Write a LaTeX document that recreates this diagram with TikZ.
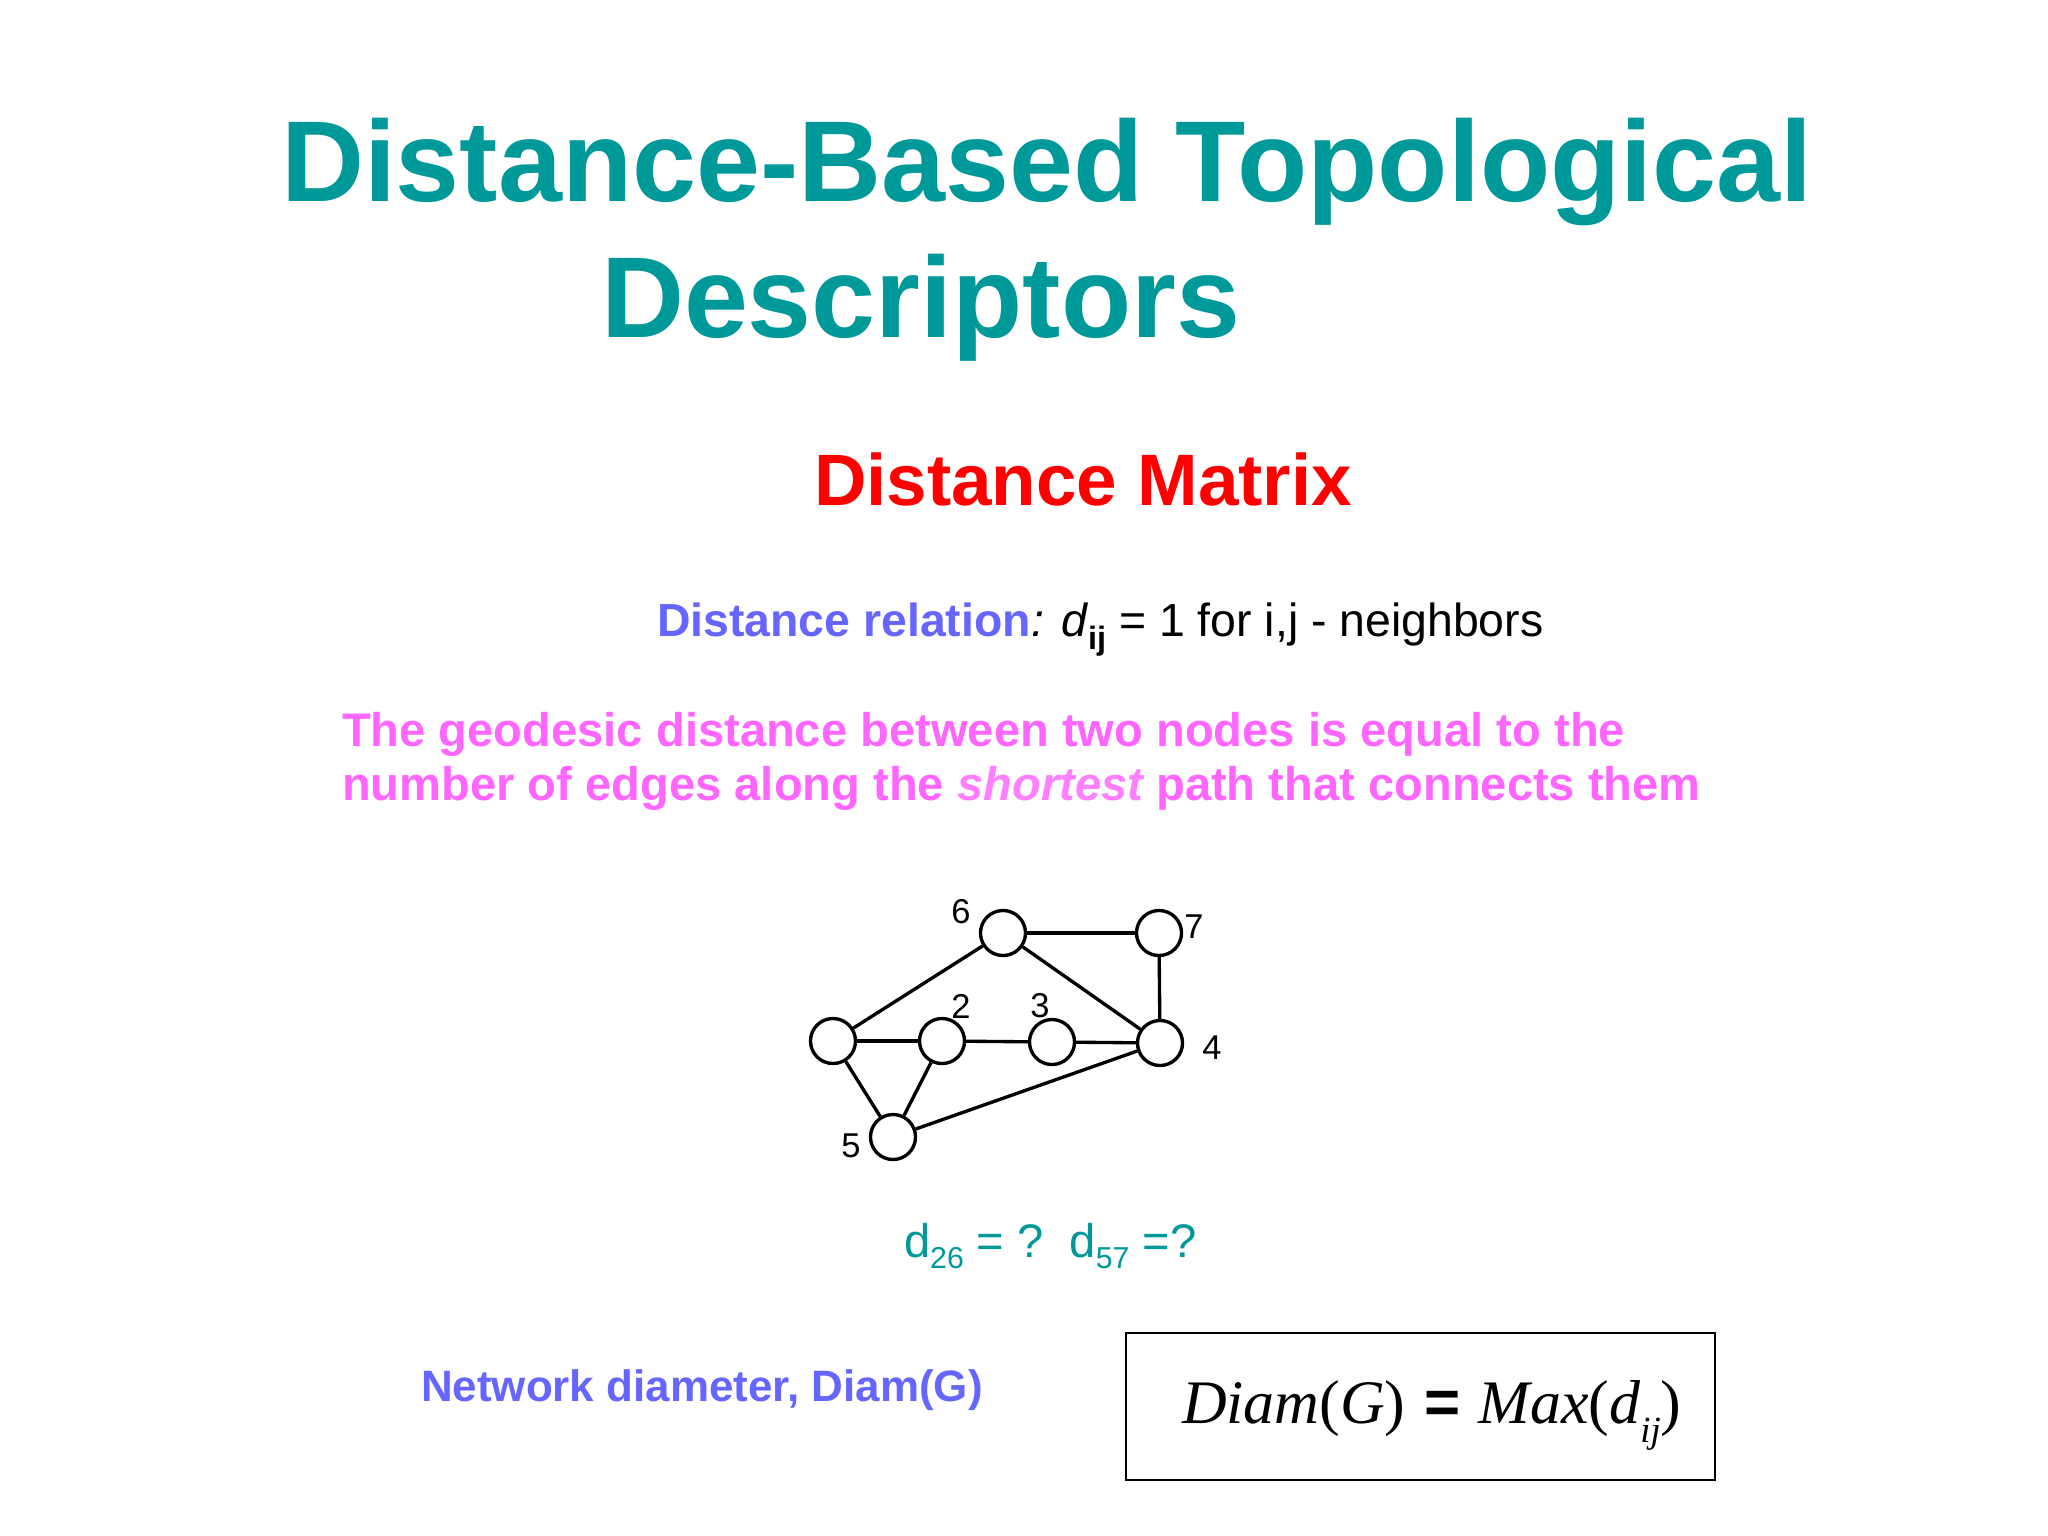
\documentclass[tikz,border=0pt]{standalone}
\usepackage{fontspec}
\setmainfont{Liberation Sans}
\newfontfamily\timesf{Liberation Serif}
\definecolor{titleteal}{RGB}{0,153,153}
\definecolor{dred}{RGB}{255,0,0}
\definecolor{dblue}{RGB}{102,102,255}
\definecolor{dpink}{RGB}{255,102,255}
\definecolor{dpinklight}{RGB}{255,128,255}
\tikzset{
  txt/.style={inner sep=0pt, outer sep=0pt, anchor=base west},
  vtx/.style={circle, draw=black, line width=0.95pt, minimum size=0.45cm, inner sep=0pt, fill=white},
  edge/.style={line width=0.95pt, draw=black},
  vlabel/.style={inner sep=0pt, outer sep=0pt, anchor=center, font=\fontsize{9.8}{10}\selectfont},
  fbox/.style={draw=black, line width=0.6pt, inner sep=0pt, minimum width=5.89cm, minimum height=1.47cm}
}
\begin{document}
\begin{tikzpicture}[x=0.01cm,y=-0.01cm]
\useasboundingbox (0,0) rectangle (2048,1536);
\fill[white] (0,0) rectangle (2048,1536);

% title
\node[txt, text=titleteal] (title1) at (281,201) {\fontsize{32.7}{36}\selectfont\bfseries Distance-Based Topological};
\node[txt, text=titleteal] (title2) at (601,337) {\fontsize{32.7}{36}\selectfont\bfseries Descriptors};

% subtitle
\node[txt, text=dred] (sub) at (814,505) {\fontsize{20.7}{24}\selectfont\bfseries Distance Matrix};

% distance relation
\node[txt] (rel) at (657,636) {\fontsize{13.2}{15}\selectfont\textcolor{dblue}{\bfseries Distance relation}\textit{: d}\raisebox{-0.28em}{\fontsize{9.2}{9}\selectfont\bfseries ij} = 1 for i,j - neighbors};

% geodesic text
\node[txt, text=dpink] (geo1) at (342,746) {\fontsize{13.4}{15.4}\selectfont\bfseries The geodesic distance between two nodes is equal to the};
\node[txt, text=dpink] (geo2) at (342,800) {\fontsize{13.4}{15.4}\selectfont\bfseries number of edges along the \textcolor{dpinklight}{\itshape shortest} path that connects them};

% graph
\node[vtx] (n1) at (833,1041) {};
\node[vtx] (n2) at (942,1041) {};
\node[vtx] (n3) at (1052,1042) {};
\node[vtx] (n4) at (1160,1043) {};
\node[vtx] (n5) at (893,1137) {};
\node[vtx] (n6) at (1003,933) {};
\node[vtx] (n7) at (1159,933) {};

\draw[edge] (n1) -- (n6);
\draw[edge] (n6) -- (n7);
\draw[edge] (n6) -- (n4);
\draw[edge] (n7) -- (n4);
\draw[edge] (n1) -- (n2);
\draw[edge] (n2) -- (n3);
\draw[edge] (n3) -- (n4);
\draw[edge] (n1) -- (n5);
\draw[edge] (n2) -- (n5);
\draw[edge] (n5) -- (n4);

\node[vlabel] (l6) at (961,912) {6};
\node[vlabel] (l7) at (1194,927) {7};
\node[vlabel] (l2) at (961,1006) {2};
\node[vlabel] (l3) at (1040,1006) {3};
\node[vlabel] (l4) at (1212,1048) {4};
\node[vlabel] (l5) at (851,1146) {5};

% question
\node[txt, text=titleteal] (q) at (904,1257) {\fontsize{13.4}{15}\selectfont d\raisebox{-0.24em}{\fontsize{8.6}{9}\selectfont 26} = ?\hspace{0.55em}d\raisebox{-0.24em}{\fontsize{8.6}{9}\selectfont 57} =?};

% network diameter
\node[txt, text=dblue] (net) at (421,1401) {\fontsize{12.5}{15}\selectfont\bfseries Network diameter, Diam(G)};

% formula box
\node[fbox] (box) at (1420.5,1406.5) {};
\node[txt] (formula) at (1182,1423) {\fontsize{17.6}{20}\selectfont{\timesf\itshape Diam}{\timesf(}{\timesf\itshape G}{\timesf)}\hspace{0.3em}{\bfseries =}\hspace{0.3em}{\timesf\itshape Max}{\timesf(}{\timesf\itshape d}\raisebox{-0.32em}{\fontsize{10.5}{11}\selectfont\timesf\itshape ij}{\timesf)}};
\end{tikzpicture}
\end{document}
